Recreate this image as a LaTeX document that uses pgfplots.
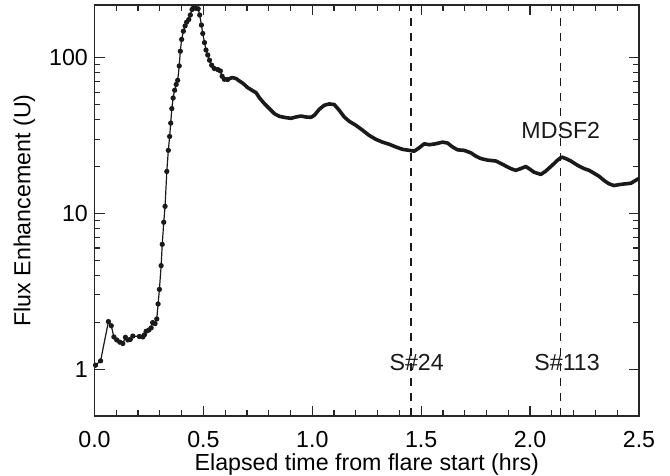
\documentclass[border=0pt]{standalone}
\usepackage{fontspec}
\setmainfont{Liberation Sans}
\usepackage{pgfplots}
\pgfplotsset{compat=1.18}
\definecolor{ink}{HTML}{1A1A1A}
\begin{document}
\begin{tikzpicture}[font=\fontsize{11.6pt}{14pt}\selectfont]
\begin{axis}[name=ax,
  scale only axis, width=272.25pt, height=205.5pt,
  ymode=log, xmin=0, xmax=2.5, ymin=0.5, ymax=218,
  xtick={0,0.5,1,1.5,2,2.5},
  xticklabels={0.0,0.5,1.0,1.5,2.0,2.5},
  minor x tick num=4,
  ytick={1,10,100}, yticklabels={1,10,100},
  tick align=inside,
  major tick length=5pt, minor tick length=3pt,
  axis line style={line width=0.6pt, black!85},
  every tick/.style={line width=0.6pt, black!85},
  xticklabel style={anchor=base, inner sep=0pt, yshift=-15.6pt},
  yticklabel style={anchor=east, inner sep=0pt, xshift=-3.1pt},
  xlabel={Elapsed time from flare start (hrs)},
  ylabel={Flux Enhancement (U)},
  xlabel style={at={(axis description cs:0.5,-0.118)}, anchor=center, inner sep=0pt},
  ylabel style={at={(axis description cs:-0.1287,0.5)}, anchor=center, inner sep=0pt},
  clip=true,
]
\addplot[ink, line width=0.6pt, mark=*, mark size=1pt, mark options={ink}] coordinates {
(0.005,1.06) (0.028,1.13) (0.064,2.02) (0.077,1.90) (0.089,1.61) (0.102,1.54)
(0.116,1.49) (0.130,1.46) (0.142,1.60) (0.153,1.54) (0.164,1.55) (0.176,1.63)
(0.206,1.62) (0.222,1.61) (0.229,1.66) (0.237,1.75) (0.249,1.78) (0.260,1.84)
(0.267,1.99) (0.278,1.96) (0.286,2.10) (0.292,2.62) (0.298,3.25) (0.306,4.62)
(0.311,6.33) (0.318,8.77) (0.324,11.1) (0.332,18.6) (0.339,25.4) (0.345,31.2)
(0.350,38.0) (0.355,47.1) (0.361,55.1) (0.368,61.8) (0.375,67.3) (0.382,71.6)
(0.389,88.5) (0.394,110) (0.400,131) (0.408,148) (0.416,160) (0.423,169)
(0.433,176) (0.440,188) (0.448,204) (0.454,208) (0.463,208) (0.476,206)
(0.483,188) (0.491,162) (0.497,143) (0.505,125) (0.512,112) (0.520,104)
(0.528,96.3) (0.538,89.5) (0.550,85.2) (0.566,83.9) (0.578,82.2) (0.586,76.0)
(0.596,72.7) (0.611,72.4)
};
\addplot[ink, line width=1.8pt, line join=round, line cap=round] coordinates {
(0.596,72.7) (0.611,72.4) (0.632,74.6) (0.650,73.5) (0.665,70.9) (0.683,68.2)
(0.703,64.3) (0.726,61.4) (0.742,59.6) (0.757,55.3) (0.780,50.7) (0.803,47.1)
(0.826,43.7) (0.849,42.0) (0.879,41.2) (0.902,40.8) (0.925,41.6) (0.948,42.2)
(0.971,41.6) (0.994,41.4) (1.009,42.6) (1.032,46.6) (1.055,49.5) (1.078,50.5)
(1.101,50.0) (1.124,45.9) (1.147,41.6) (1.170,39.0) (1.200,36.8) (1.231,34.2)
(1.261,31.7) (1.292,29.9) (1.322,28.7) (1.353,27.8) (1.384,26.7) (1.414,25.8)
(1.445,25.4) (1.468,25.1) (1.491,26.4) (1.514,28.0) (1.537,27.6) (1.567,28.0)
(1.598,28.7) (1.621,28.3) (1.644,26.7) (1.667,25.6) (1.697,25.4) (1.728,24.5)
(1.751,23.3) (1.774,22.5) (1.804,22.0) (1.843,21.7) (1.881,20.4) (1.911,19.4)
(1.934,18.9) (1.957,19.4) (1.980,20.0) (1.995,19.4) (2.018,18.4) (2.049,17.8)
(2.072,18.7) (2.102,20.4) (2.125,21.9) (2.145,23.0) (2.164,22.5) (2.187,21.7)
(2.217,20.4) (2.248,19.4) (2.271,18.9) (2.294,18.1) (2.317,17.3) (2.339,16.3)
(2.362,15.5) (2.385,15.1) (2.408,15.3) (2.439,15.5) (2.462,15.6) (2.485,16.3)
(2.497,16.7)
};
\addplot[ink, line width=0.6pt, dash pattern=on 4pt off 3.5pt] coordinates {(1.453,0.5) (1.453,218)};
\addplot[ink, line width=0.6pt, dash pattern=on 4pt off 3.5pt] coordinates {(2.141,0.5) (2.141,218)};
\node[anchor=base, inner sep=0pt, text=ink] at (axis cs:1.479,0.978) {S\#24};
\node[anchor=base, inner sep=0pt, text=ink] at (axis cs:2.170,0.978) {S\#113};
\node[anchor=base, inner sep=0pt, text=ink] at (axis cs:2.141,30.2) {MDSF2};
\end{axis}
\path ([shift={(-47.25pt,-29.5pt)}]ax.south west) rectangle ([shift={(15.5pt,2.5pt)}]ax.north east);
\end{tikzpicture}
\end{document}
